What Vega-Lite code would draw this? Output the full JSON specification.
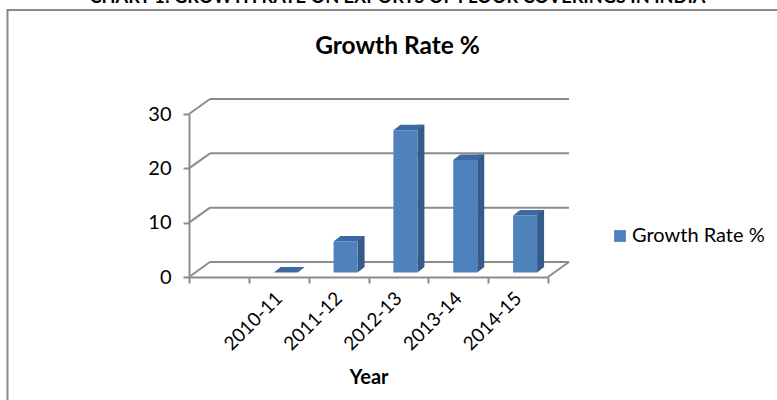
{
  "$schema": "https://vega.github.io/schema/vega-lite/v6.json",
  "width": 359,
  "height": 163,
  "autosize": {"type": "none"},
  "padding": {"left": 189, "top": 114, "right": 229, "bottom": 123},
  "background": "white",
  "title": {
    "text": "CHART 1: GROWTH RATE ON EXPORTS OF FLOOR COVERINGS IN INDIA",
    "subtitle": "Growth Rate %",
    "frame": "group",
    "anchor": "middle",
    "dx": 29,
    "font": "Lato",
    "fontSize": 18.2,
    "fontWeight": "bold",
    "color": "black",
    "subtitleFont": "Lato",
    "subtitleFontSize": 24.5,
    "subtitleFontWeight": "bold",
    "subtitleColor": "black",
    "subtitlePadding": 27,
    "offset": -50
  },
  "datasets": {
    "growth": [
      {"year": "2010-11", "value": 0},
      {"year": "2011-12", "value": 5.7},
      {"year": "2012-13", "value": 26.2},
      {"year": "2013-14", "value": 20.7},
      {"year": "2014-15", "value": 10.5}
    ],
    "grid": [{"v": 0}, {"v": 10}, {"v": 20}, {"v": 30}],
    "joints": [
      {"u": 0, "v": 0},
      {"u": 0, "v": 10},
      {"u": 0, "v": 20},
      {"u": 0, "v": 30},
      {"u": 1, "v": 0}
    ]
  },
  "layer": [
    {
      "layer": [
        {
          "data": {"values": [{"f": 1}]},
          "mark": {"type": "rect", "fill": null, "stroke": "#8a8a8a", "strokeWidth": 2},
          "encoding": {
            "x": {"datum": -0.5056, "type": "quantitative", "scale": {"domain": [0, 1], "nice": false, "zero": false}, "axis": null},
            "x2": {"datum": 2},
            "y": {
              "datum": 49.14,
              "type": "quantitative",
              "scale": {"domain": [0, 30], "nice": false},
              "axis": {"values": [0, 10, 20, 30], "title": null, "grid": false, "domainColor": "#8c8c8c", "domainWidth": 2, "tickColor": "#8c8c8c", "tickWidth": 2, "tickSize": 6, "labelFont": "Lato", "labelFontSize": 20, "labelColor": "black", "labelPadding": 12}
            },
            "y2": {"datum": -30}
          }
        },
        {
          "data": {"name": "grid"},
          "mark": {"type": "rule", "color": "#8c8c8c", "strokeWidth": 2, "xOffset": 21, "x2Offset": 21, "yOffset": -15},
          "encoding": {
            "x": {"datum": 0, "type": "quantitative", "scale": {"domain": [0, 1], "nice": false, "zero": false}, "axis": null},
            "x2": {"datum": 1},
            "y": {
              "field": "v",
              "type": "quantitative",
              "scale": {"domain": [0, 30], "nice": false},
              "axis": {"values": [0, 10, 20, 30], "title": null, "grid": false, "domainColor": "#8c8c8c", "domainWidth": 2, "tickColor": "#8c8c8c", "tickWidth": 2, "tickSize": 6, "labelFont": "Lato", "labelFontSize": 20, "labelColor": "black", "labelPadding": 12}
            }
          }
        },
        {
          "data": {"name": "joints"},
          "mark": {"type": "rule", "color": "#8c8c8c", "strokeWidth": 2, "x2Offset": 21, "y2Offset": -15},
          "encoding": {
            "x": {"field": "u", "type": "quantitative", "scale": {"domain": [0, 1], "nice": false, "zero": false}, "axis": null},
            "x2": {"field": "u"},
            "y": {
              "field": "v",
              "type": "quantitative",
              "scale": {"domain": [0, 30], "nice": false},
              "axis": {"values": [0, 10, 20, 30], "title": null, "grid": false, "domainColor": "#8c8c8c", "domainWidth": 2, "tickColor": "#8c8c8c", "tickWidth": 2, "tickSize": 6, "labelFont": "Lato", "labelFontSize": 20, "labelColor": "black", "labelPadding": 12}
            },
            "y2": {"field": "v"}
          }
        }
      ]
    },
    {
      "data": {"name": "growth"},
      "encoding": {
        "x": {
          "field": "year",
          "type": "nominal",
          "scale": {"domain": [" ", "2010-11", "2011-12", "2012-13", "2013-14", "2014-15"], "paddingInner": 0, "paddingOuter": 0},
          "axis": {
            "title": "Year",
            "titleFont": "Lato",
            "titleFontSize": 20,
            "titleFontWeight": "bold",
            "titleColor": "black",
            "titlePadding": 14,
            "labelAngle": -45,
            "labelAlign": "right",
            "labelBaseline": "middle",
            "labelFont": "Lato",
            "labelFontSize": 19,
            "labelColor": "black",
            "labelPadding": 12,
            "labelOverlap": false,
            "tickBand": "extent",
            "tickSize": 6,
            "tickColor": "#8c8c8c",
            "tickWidth": 2,
            "domainColor": "#8c8c8c",
            "domainWidth": 2,
            "grid": false
          }
        },
        "y": {
          "field": "value",
          "type": "quantitative",
          "scale": {"domain": [0, 30], "nice": false},
          "axis": {"values": [0, 10, 20, 30], "title": null, "grid": false, "domainColor": "#8c8c8c", "domainWidth": 2, "tickColor": "#8c8c8c", "tickWidth": 2, "tickSize": 6, "labelFont": "Lato", "labelFontSize": 20, "labelColor": "black", "labelPadding": 12}
        }
      },
      "layer": [
        {
          "mark": {"type": "bar", "width": 7, "xOffset": 22.5, "yOffset": -10, "y2Offset": -10, "color": "#365A8A"}
        },
        {
          "mark": {"type": "bar", "width": 24, "xOffset": 7, "yOffset": -4.5, "y2Offset": -4.5},
          "encoding": {
            "color": {
              "datum": "Growth Rate %",
              "scale": {"range": ["#4F81BD"]},
              "legend": {
                "orient": "none",
                "legendX": 421,
                "legendY": 112,
                "title": null,
                "symbolType": "square",
                "symbolSize": 140,
                "symbolStrokeWidth": 0,
                "labelFont": "Lato",
                "labelFontSize": 20,
                "labelColor": "black",
                "labelOffset": 2,
                "padding": 0
              }
            }
          }
        },
        {
          "mark": {"type": "point", "shape": "M-12,0L12,0L19,-5.5L-5,-5.5Z", "size": 4, "filled": true, "opacity": 1, "color": "#3E68A0", "strokeWidth": 0, "xOffset": 7, "yOffset": -4.5}
        },
        {
          "transform": [{"filter": "datum.value > 0"}],
          "mark": {"type": "point", "shape": "M12,0L12,-5.5L19,-5.5Z", "size": 4, "filled": true, "opacity": 1, "color": "#365A8A", "strokeWidth": 0, "xOffset": 7, "yOffset": -4.5},
          "encoding": {
            "y": {
              "datum": 0,
              "type": "quantitative",
              "axis": {"values": [0, 10, 20, 30], "title": null, "grid": false, "domainColor": "#8c8c8c", "domainWidth": 2, "tickColor": "#8c8c8c", "tickWidth": 2, "tickSize": 6, "labelFont": "Lato", "labelFontSize": 20, "labelColor": "black", "labelPadding": 12}
            }
          }
        }
      ]
    }
  ],
  "resolve": {"scale": {"x": "independent"}},
  "config": {
    "view": {"stroke": null},
    "font": "Lato"
  }
}
